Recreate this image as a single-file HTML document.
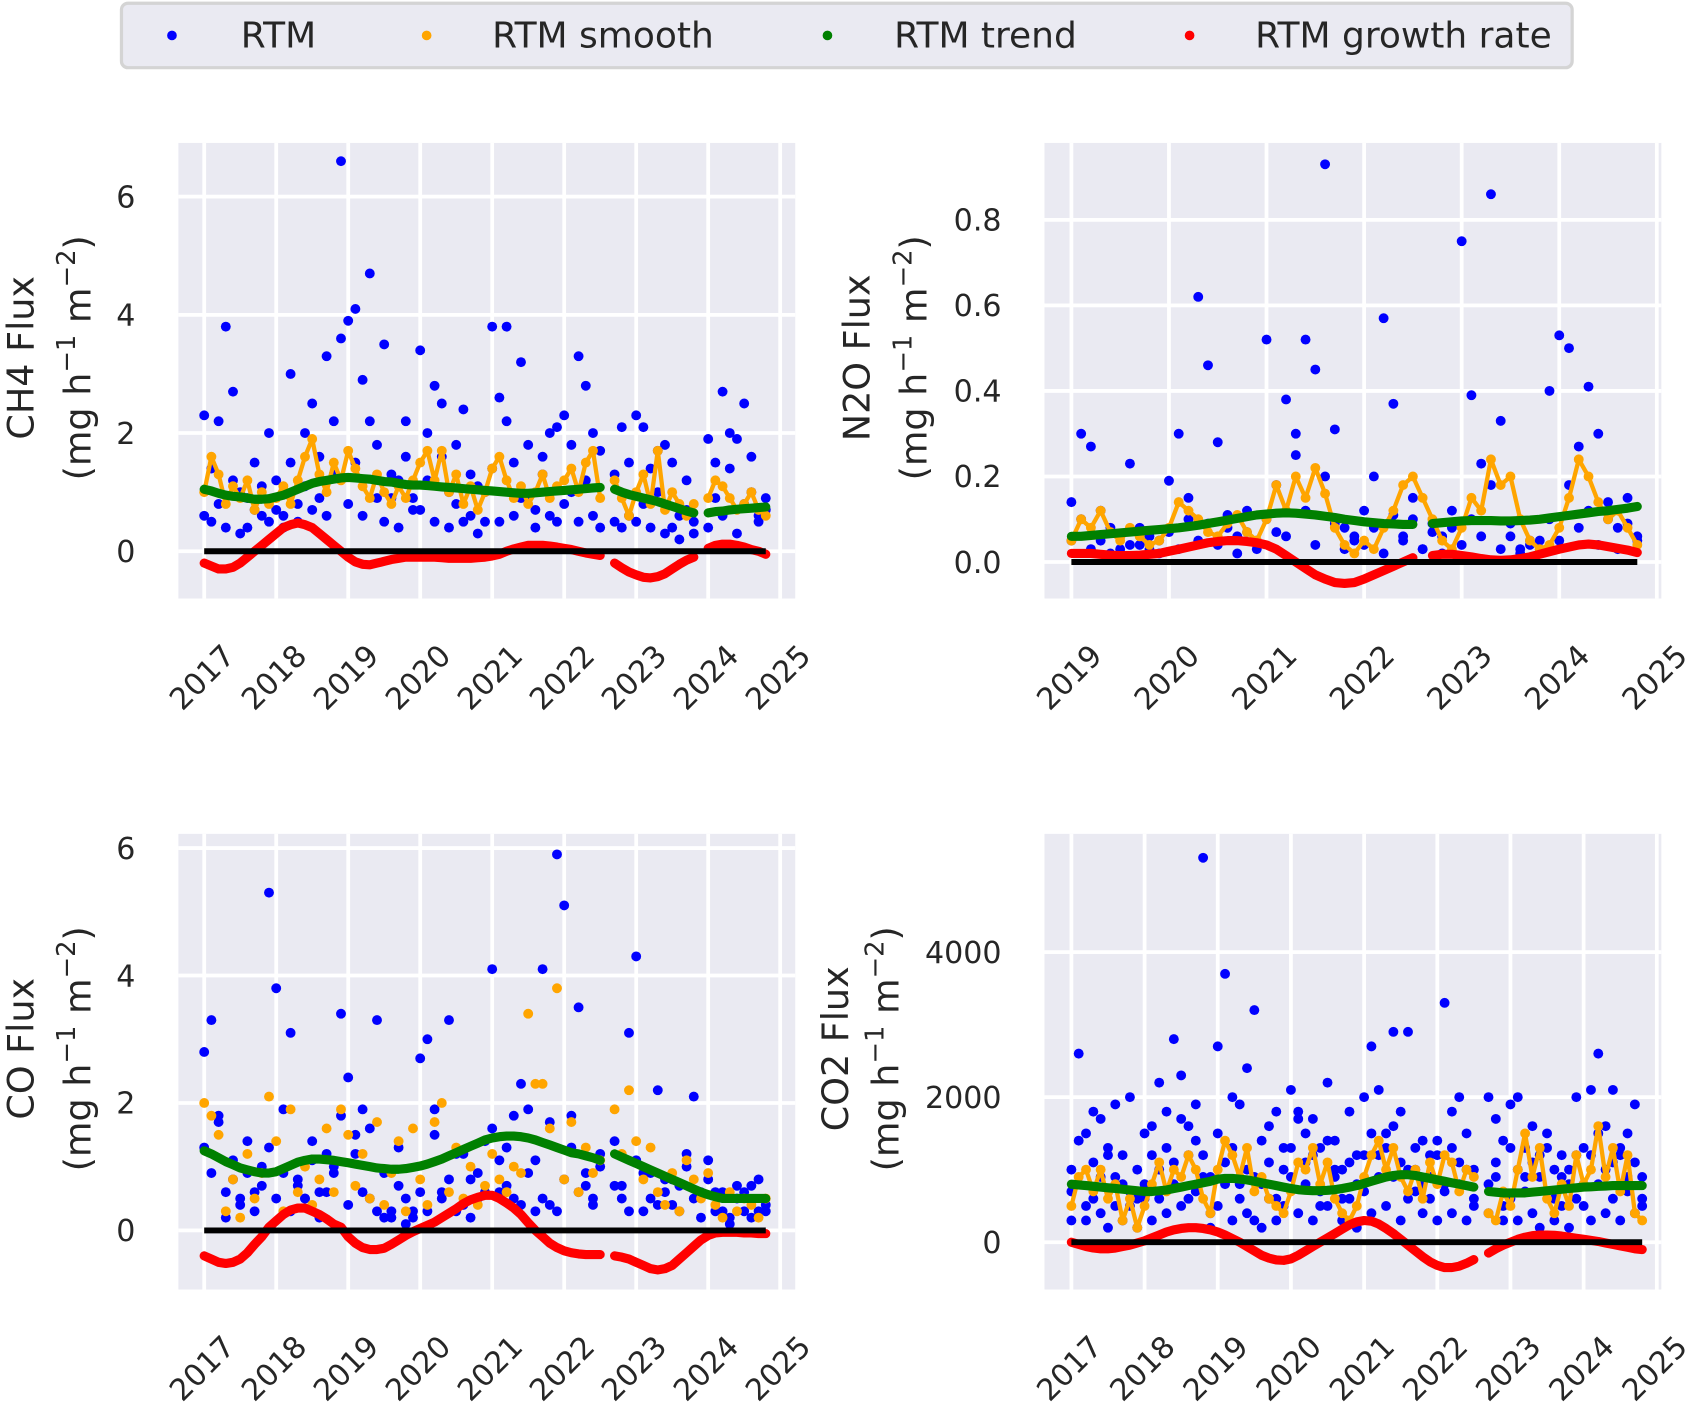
<!DOCTYPE html>
<html><head><meta charset="utf-8">
<style>
html,body{margin:0;padding:0;background:#fff;}
svg{display:block;font-family:"DejaVu Sans","Liberation Sans",sans-serif;}
</style></head>
<body>
<svg id="fig" width="1685" height="1412" viewBox="0 0 1568 1314" xmlns="http://www.w3.org/2000/svg">
<g>
<rect x="113" y="3" width="1350" height="60" rx="6" fill="#eaeaf2" stroke="#d4d4d4" stroke-width="3"/>
<circle cx="160" cy="33" r="4.5" fill="#0000ff"/>
<text x="224" y="44" font-size="33.5" fill="#262626">RTM</text>
<circle cx="397" cy="33" r="4.5" fill="#ffa500"/>
<text x="458" y="44" font-size="33.5" fill="#262626">RTM smooth</text>
<circle cx="770" cy="33" r="4.5" fill="#008000"/>
<text x="832" y="44" font-size="33.5" fill="#262626">RTM trend</text>
<circle cx="1107" cy="33" r="4.5" fill="#ff0000"/>
<text x="1168" y="44" font-size="33.5" fill="#262626">RTM growth rate</text>
</g>
</svg>
<script>
// ---------- CH4 (2017.0 .. 2024.8 step 0.1) ----------
const ch4Start = 2017.0;
const ch4RtmA = [2.3,0.5,0.8,3.8,2.7,1.0,0.4,1.5,0.6,2.0, 1.2,0.6,3.0,0.8,1.1,2.5,0.9,3.3,1.3,6.6, 3.9,4.1,2.9,4.7,1.8,3.5,0.9,1.2,2.2,0.7, 3.4,1.2,2.8,2.5,1.0,0.8,2.4,0.6,1.1,0.5, 3.8,2.6,3.8,1.5,3.2,0.9,0.7,1.6,0.6,2.1, 2.3,1.0,3.3,2.8,0.6,1.7,null,0.5,2.1,1.5, 2.3,0.8,1.4,1.0,1.8,0.4,0.6,1.2,0.3,null, 1.9,0.9,2.7,1.4,1.9,2.5,1.0,0.5,0.9];
const ch4RtmB = [0.6,1.4,2.2,0.4,1.2,0.3,0.9,0.7,1.1,0.5, 0.7,0.4,1.5,0.5,2.0,0.7,1.6,0.6,2.2,3.6, 0.8,1.5,0.6,2.2,0.9,0.5,1.3,0.4,1.6,0.9, 0.7,2.0,0.5,1.6,0.4,1.8,0.5,1.3,0.3,1.0, 1.4,0.5,2.2,0.6,0.9,1.8,0.4,1.3,2.0,0.5, 0.8,1.8,0.5,1.2,2.0,0.4,null,1.3,0.4,0.6, 0.5,2.1,0.4,1.7,0.3,1.5,0.2,0.7,0.5,null, 0.4,1.5,0.6,2.0,0.3,0.8,1.6,0.6,0.7];
const ch4Smooth = [1.0,1.6,1.3,0.8,1.1,0.9,1.2,0.7,1.0,0.8, 0.9,1.1,0.8,1.2,1.6,1.9,1.3,1.0,1.5,1.2, 1.7,1.4,1.1,0.9,1.3,1.0,0.8,1.1,0.9,1.2, 1.5,1.7,1.2,1.7,1.0,1.3,0.8,1.1,0.7,1.0, 1.4,1.6,1.2,0.9,1.1,0.8,1.0,1.3,0.9,1.1, 1.2,1.4,1.0,1.5,1.7,0.9,null,1.2,0.9,0.6, 1.0,1.3,0.8,1.7,0.7,1.0,0.8,0.6,0.8,null, 0.9,1.2,1.1,0.9,0.7,0.8,1.0,0.7,0.6];
const ch4Trend = [1.05,1.02,0.98,0.95,0.93,0.92,0.90,0.88,0.88,0.89, 0.92,0.95,1.0,1.05,1.1,1.15,1.18,1.2,1.22,1.24, 1.25,1.24,1.23,1.22,1.2,1.18,1.17,1.15,1.13,1.12, 1.12,1.11,1.10,1.09,1.08,1.07,1.06,1.05,1.04,1.03, 1.02,1.01,1.0,0.99,0.98,0.98,0.99,1.0,1.01,1.02, 1.03,1.04,1.05,1.06,1.07,1.08,null,1.05,1.0,0.96, 0.93,0.9,0.87,0.84,0.8,0.76,0.72,0.68,0.65,null, 0.65,0.67,0.68,0.7,0.71,0.72,0.73,0.74,0.75];
const ch4Growth = [-0.2,-0.25,-0.3,-0.3,-0.27,-0.2,-0.1,0.0,0.1,0.2, 0.3,0.4,0.45,0.48,0.45,0.4,0.3,0.2,0.1,0.0, -0.1,-0.18,-0.22,-0.23,-0.2,-0.17,-0.14,-0.12,-0.1,-0.1, -0.1,-0.1,-0.1,-0.11,-0.12,-0.12,-0.12,-0.12,-0.11,-0.1, -0.08,-0.05,0.0,0.04,0.07,0.1,0.1,0.1,0.09,0.07, 0.05,0.03,0.0,-0.03,-0.05,-0.07,null,-0.2,-0.28,-0.35, -0.4,-0.44,-0.45,-0.43,-0.38,-0.3,-0.22,-0.15,-0.1,null, 0.05,0.1,0.12,0.12,0.1,0.07,0.03,0.0,-0.05];
const ch4YTicks = [0,2,4,6];
const ch4YTickLabels = ["0","2","4","6"];

// ---------- N2O (2019.0 .. 2024.8 step 0.1) ----------
const n2oStart = 2019.0;
const n2oRtmA = [0.14,0.30,0.27,0.05,0.08,0.03,0.23,0.04,0.06,0.02, 0.19,0.30,0.10,0.62,0.46,0.28,0.08,0.06,0.12,0.05, 0.52,0.07,0.38,0.25,0.52,0.45,0.93,0.31,0.08,0.05, 0.12,0.20,0.57,0.37,0.06,0.10,0.03,0.09,0.06,0.12, 0.75,0.39,0.23,0.86,0.33,0.06,0.03,0.04,0.05,0.40, 0.53,0.50,0.27,0.41,0.30,0.10,0.08,0.15,0.06];
const n2oRtmB = [0.05,0.10,0.03,0.12,0.02,0.06,0.04,0.08,0.03,0.05, 0.07,0.03,0.15,0.05,0.09,0.04,0.11,0.02,0.07,0.03, 0.10,0.18,0.06,0.30,0.12,0.04,0.20,0.09,0.03,0.06, 0.04,0.08,0.02,0.11,0.05,0.15,0.03,0.07,0.02,0.08, 0.04,0.10,0.06,0.18,0.03,0.09,0.02,0.05,0.03,0.10, 0.05,0.18,0.08,0.12,0.04,0.14,0.03,0.09,0.05];
const n2oSmooth = [0.05,0.10,0.08,0.12,0.07,0.05,0.08,0.06,0.04,0.05, 0.08,0.14,0.12,0.10,0.07,0.06,0.09,0.11,0.07,0.05, 0.10,0.18,0.12,0.20,0.15,0.22,0.16,0.08,0.04,0.02, 0.05,0.03,0.08,0.12,0.18,0.20,0.15,0.10,0.05,0.03, 0.08,0.15,0.12,0.24,0.18,0.20,0.10,0.05,0.03,0.04, 0.08,0.15,0.24,0.20,0.14,0.10,0.12,0.08,0.04];
const n2oTrend = [0.06,0.06,0.062,0.064,0.066,0.068,0.07,0.072,0.074,0.076, 0.078,0.08,0.083,0.086,0.09,0.094,0.098,0.102,0.106,0.11, 0.112,0.114,0.115,0.114,0.112,0.11,0.107,0.104,0.1,0.097, 0.094,0.092,0.09,0.089,0.088,0.088,null,0.09,0.092,0.094, 0.096,0.097,0.097,0.097,0.096,0.096,0.097,0.098,0.1,0.103, 0.106,0.109,0.112,0.115,0.118,0.12,0.123,0.126,0.13];
const n2oGrowth = [0.02,0.02,0.02,0.018,0.016,0.015,0.015,0.016,0.018,0.02, 0.025,0.03,0.035,0.04,0.045,0.048,0.05,0.05,0.048,0.045, 0.04,0.03,0.015,0.0,-0.015,-0.03,-0.04,-0.048,-0.05,-0.048, -0.04,-0.03,-0.02,-0.01,0.0,0.01,null,0.015,0.018,0.018, 0.015,0.012,0.008,0.005,0.004,0.005,0.008,0.012,0.018,0.024, 0.03,0.035,0.04,0.042,0.04,0.036,0.032,0.028,0.022];
const n2oYTicks = [0,0.2,0.4,0.6,0.8];
const n2oYTickLabels = ["0.0","0.2","0.4","0.6","0.8"];

// ---------- CO ----------
const coStart = 2017.0;
const coRtmA = [2.8,3.3,1.8,0.6,1.1,0.5,0.9,0.3,1.0,5.3, 3.8,1.9,3.1,0.8,0.5,1.4,0.6,1.2,1.0,3.4, 2.4,1.5,1.9,0.5,3.3,0.2,0.3,0.7,0.1,0.2, 2.7,3.0,1.9,0.6,3.3,1.2,0.4,0.2,0.9,0.6, 4.1,1.1,0.7,0.5,2.3,1.9,0.3,4.1,0.4,5.9, 5.1,1.8,3.5,0.7,0.4,1.2,null,1.4,0.7,3.1, 4.3,0.9,0.5,2.2,0.8,0.4,0.7,1.0,2.1,0.6, 1.1,0.6,0.3,0.2,0.7,0.6,0.2,0.8,0.3];
const coRtmB = [1.3,0.9,1.7,0.2,0.8,0.4,1.4,0.6,0.7,1.3, 0.5,0.9,0.3,0.7,0.5,1.1,0.2,0.6,0.9,1.8, 0.4,1.2,0.6,1.6,0.3,0.9,0.2,1.3,0.5,0.3, 0.6,0.3,1.5,0.5,0.8,0.3,1.2,0.8,0.5,1.4, 1.6,0.6,1.3,1.8,0.4,0.9,1.1,0.5,1.7,0.3, 0.8,1.3,0.6,0.9,0.5,1.0,null,0.7,0.5,0.3, 1.1,0.3,0.9,0.4,0.6,0.8,0.3,1.2,0.5,0.2, 0.8,0.3,0.6,0.1,0.5,0.3,0.7,0.3,0.4];
const coSmooth = [2.0,1.8,1.5,0.3,0.8,0.2,1.2,0.5,0.9,2.1, 1.4,0.3,1.9,0.6,1.0,0.4,0.8,1.6,0.6,1.9, 1.5,0.7,1.2,0.5,1.7,0.4,0.9,1.4,0.3,1.6, 0.8,0.4,1.7,2.0,0.6,1.3,0.5,1.0,0.4,0.7, 1.2,0.8,0.6,1.0,0.9,3.4,2.3,2.3,1.6,3.8, 0.8,1.7,0.6,1.3,0.9,1.1,null,1.9,1.2,2.2, 1.4,0.8,1.3,0.6,0.4,0.9,0.3,1.1,0.8,0.5, 0.9,0.4,0.2,0.6,0.3,0.5,0.4,0.2,0.5];
const coTrend = [1.25,1.2,1.14,1.08,1.03,0.98,0.95,0.92,0.9,0.9, 0.92,0.97,1.02,1.07,1.1,1.12,1.12,1.11,1.1,1.08, 1.06,1.04,1.02,1.0,0.98,0.97,0.96,0.96,0.97,0.99, 1.01,1.04,1.08,1.12,1.17,1.22,1.27,1.32,1.37,1.42, 1.45,1.47,1.48,1.48,1.47,1.45,1.42,1.38,1.34,1.3, 1.26,1.22,1.2,1.17,1.14,1.1,null,1.2,1.15,1.1, 1.05,1.0,0.95,0.9,0.85,0.8,0.75,0.7,0.65,0.6, 0.56,0.53,0.5,0.5,0.5,0.5,0.5,0.5,0.5];
const coGrowth = [-0.4,-0.45,-0.5,-0.52,-0.5,-0.45,-0.35,-0.22,-0.1,0.05, 0.15,0.25,0.32,0.35,0.35,0.3,0.25,0.18,0.1,0.05, -0.1,-0.2,-0.27,-0.3,-0.3,-0.28,-0.22,-0.15,-0.08,-0.02, 0.03,0.08,0.13,0.2,0.27,0.34,0.42,0.48,0.52,0.55, 0.55,0.5,0.43,0.35,0.25,0.12,0.0,-0.1,-0.2,-0.27, -0.32,-0.35,-0.37,-0.38,-0.38,-0.38,null,-0.4,-0.42,-0.45, -0.5,-0.55,-0.6,-0.62,-0.6,-0.55,-0.45,-0.35,-0.25,-0.15, -0.08,-0.04,-0.03,-0.03,-0.03,-0.04,-0.04,-0.05,-0.05];
const coYTicks = [0,2,4,6];
const coYTickLabels = ["0","2","4","6"];

// ---------- CO2 ----------
const co2Start = 2017.0;
const co2RtmA = [1000,2600,1500,1800,1700,1200,1900,800,2000,600, 1500,1200,2200,1800,2800,2300,1600,1900,5300,900, 2700,3700,2000,1900,2400,3200,1400,1600,1800,1300, 2100,1800,1500,1700,1300,2200,1400,1000,1800,1200, 2000,2700,2100,1500,2900,1800,2900,1300,1400,900, 1200,3300,1800,2000,1500,1000,null,2000,1700,1400, 1900,2000,1300,1600,1200,1500,1000,1200,800,2000, 1300,2100,2600,1600,2100,1200,1500,1900,900];
const co2RtmB = [300,800,500,600,400,200,900,300,500,200, 600,300,1000,400,800,500,1200,700,900,400, 500,1100,300,800,400,900,200,600,300,500, 900,400,1100,300,700,500,1000,300,600,200, 700,400,1200,500,900,300,1000,700,400,600, 300,800,400,1100,300,500,null,400,900,300, 600,300,900,400,200,700,300,500,200,600, 500,300,800,400,1100,300,700,400,500];
const co2RtmC = [700,1400,300,1100,900,1300,500,1200,700,1000, 800,1600,600,1300,1100,1700,600,1400,1200,200, 1500,800,1300,600,1000,300,800,1100,600,1000, 1300,1700,800,1200,500,1400,900,600,1100,800, 1200,1500,900,1300,1600,1100,600,1000,800,1200, 1400,700,1300,800,1000,600,null,800,1100,500, 1300,1000,700,1100,900,1300,600,900,1000,1200, 800,1200,1500,1000,600,1300,900,1100,600];
const co2Smooth = [500,900,1000,700,1000,600,800,300,600,200, 500,800,1100,700,1000,900,1200,1000,600,400, 1000,1400,1200,900,1300,700,900,600,500,400, 700,1100,1000,1300,800,1100,600,400,300,500, 900,1200,1400,1000,1300,900,700,1000,600,1100, 800,1200,1100,700,1000,900,null,400,300,700, 500,1000,1500,900,1300,600,400,800,500,1200, 800,1000,1600,900,1300,700,1200,400,300];
const co2Trend = [800,790,780,770,760,750,740,730,720,710, 700,700,710,720,740,760,780,800,820,840, 870,880,880,870,860,840,820,800,780,760, 740,725,715,710,710,715,725,740,760,780, 810,840,870,900,920,930,930,920,900,880, 860,840,820,800,780,760,null,700,690,680, 680,680,680,690,700,710,720,730,740,750, 760,765,770,775,780,780,780,780,780];
const co2Growth = [0,-30,-60,-80,-90,-90,-80,-60,-40,-10, 20,60,100,140,170,190,200,200,190,170, 140,100,50,0,-60,-120,-180,-220,-245,-250, -230,-180,-120,-60,0,60,120,180,240,280, 300,290,250,190,120,40,-40,-120,-200,-270, -320,-350,-350,-330,-290,-240,null,-150,-90,-40, 0,40,70,90,100,100,95,85,70,55, 40,25,10,-10,-30,-50,-70,-90,-100];
const co2YTicks = [0,2000,4000];
const co2YTickLabels = ["0","2000","4000"];

const xTicks2017 = [2017,2018,2019,2020,2021,2022,2023,2024,2025];
const xTicks2019 = [2019,2020,2021,2022,2023,2024,2025];

const NS = "http://www.w3.org/2000/svg";
const svg = document.getElementById('fig');
function mk(tag, attrs, parent){
  const e = document.createElementNS(NS, tag);
  for (const k in attrs) e.setAttribute(k, attrs[k]);
  (parent||svg).appendChild(e);
  return e;
}

function panel(cfg){
  const g = mk('g', {});
  
  
  const X = yr => cfg.x0 + (yr - cfg.yr0) * cfg.ppy;
  const Y = v => cfg.y0 - v * cfg.ppu;
  const bg = mk('rect', {x:cfg.l, y:cfg.t, width:cfg.r-cfg.l, height:cfg.b-cfg.t, fill:'#eaeaf2'}, g);
  
  
  cfg.xt.forEach(t => {
    const gl = mk('line', {x1:X(t), x2:X(t), y1:cfg.t, y2:cfg.b, stroke:'#fff', 'stroke-width':3.5}, g);
    
    
    const tx = mk('text', {x:X(t)+30, y:cfg.xly, 'text-anchor':'end', 'font-size':28, fill:'#262626', transform:'rotate(-45 '+(X(t)+30)+' '+cfg.xly+')'}, g);
    tx.textContent = t;
    
    
  });
  cfg.yt.forEach((t,i) => {
    const gl = mk('line', {x1:cfg.l, x2:cfg.r, y1:Y(t), y2:Y(t), stroke:'#fff', 'stroke-width':3.5}, g);
    
    
    const tx = mk('text', {x:cfg.l-40, y:Y(t)+10, 'text-anchor':'end', 'font-size':28, fill:'#262626'}, g);
    tx.textContent = cfg.ytl[i];
    
    
  });
  const cy = (cfg.t + cfg.b)/2 - 12;
  const yl = mk('text', {x:cfg.lab1, y:cy, 'text-anchor':'middle', 'font-size':34, fill:'#262626', transform:'rotate(-90 '+cfg.lab1+' '+cy+')'}, g);
  yl.textContent = cfg.label;
  
  
  const yl2 = mk('text', {x:cfg.lab2, y:cy, 'text-anchor':'middle', 'font-size':34, fill:'#262626', transform:'rotate(-90 '+cfg.lab2+' '+cy+')'}, g);
  yl2.innerHTML = '(mg h<tspan font-size="24" dy="-14">\u22121</tspan><tspan dy="14"> m</tspan><tspan font-size="24" dy="-14">\u22122</tspan><tspan dy="14">)</tspan>';
  
  
  const xs = i => X(cfg.start + i*0.1);
  cfg.rtm.forEach(arr => arr.forEach((v,i) => {
    if (v === null) return;
    const c = mk('circle', {cx:xs(i), cy:Y(v), r:4.6, fill:'#0000ff'}, g);
    
    
  }));
  function line(arr, color, w, nm){
    let d = '', pen = false;
    arr.forEach((v,i) => {
      if (v === null) { pen = false; return; }
      d += (pen ? 'L' : 'M') + xs(i).toFixed(1) + ' ' + Y(v).toFixed(1);
      pen = true;
    });
    const p = mk('path', {d:d, fill:'none', stroke:color, 'stroke-width':w, 'stroke-linecap':'round', 'stroke-linejoin':'round'}, g);
    
    
  }
  if (cfg.smoothLine) line(cfg.smooth, '#ffa500', 4, cfg.name + '-smooth-line');
  cfg.smooth.forEach((v,i) => {
    if (v === null) return;
    const c = mk('circle', {cx:xs(i), cy:Y(v), r:4.6, fill:'#ffa500'}, g);
    
    
  });
  line(cfg.trend, '#008000', 8.5, cfg.name + '-trend-line');
  line(cfg.growth, '#ff0000', 8.5, cfg.name + '-growth-line');
  const n = cfg.trend.length - 1;
  const zl = mk('line', {x1:xs(0), x2:xs(n), y1:Y(0), y2:Y(0), stroke:'#000', 'stroke-width':5.5}, g);
  
  
}

panel({name:'ch4', label:'CH4 Flux', lab1:31, lab2:84, l:166, r:740, t:133, b:557, x0:190, yr0:2017, ppy:67, y0:513, ppu:55,
  xt:xTicks2017, yt:ch4YTicks, ytl:ch4YTickLabels, xly:612, start:ch4Start,
  rtm:[ch4RtmA, ch4RtmB], smooth:ch4Smooth, trend:ch4Trend, growth:ch4Growth, smoothLine:true});
panel({name:'n2o', label:'N2O Flux', lab1:809, lab2:862, l:972, r:1546, t:133, b:557, x0:997, yr0:2019, ppy:90.8, y0:523, ppu:398,
  xt:xTicks2019, yt:n2oYTicks, ytl:n2oYTickLabels, xly:612, start:n2oStart,
  rtm:[n2oRtmA, n2oRtmB], smooth:n2oSmooth, trend:n2oTrend, growth:n2oGrowth, smoothLine:true});
panel({name:'co', label:'CO Flux', lab1:31, lab2:84, l:166, r:740, t:776, b:1200, x0:190, yr0:2017, ppy:67, y0:1145, ppu:59.3,
  xt:xTicks2017, yt:coYTicks, ytl:coYTickLabels, xly:1255, start:coStart,
  rtm:[coRtmA, coRtmB], smooth:coSmooth, trend:coTrend, growth:coGrowth, smoothLine:false});
panel({name:'co2', label:'CO2 Flux', lab1:789, lab2:836, l:972, r:1546, t:776, b:1200, x0:997, yr0:2017, ppy:68.1, y0:1156, ppu:0.0675,
  xt:xTicks2017, yt:co2YTicks, ytl:co2YTickLabels, xly:1255, start:co2Start,
  rtm:[co2RtmA, co2RtmB, co2RtmC], smooth:co2Smooth, trend:co2Trend, growth:co2Growth, smoothLine:true});
</script>
</body></html>
